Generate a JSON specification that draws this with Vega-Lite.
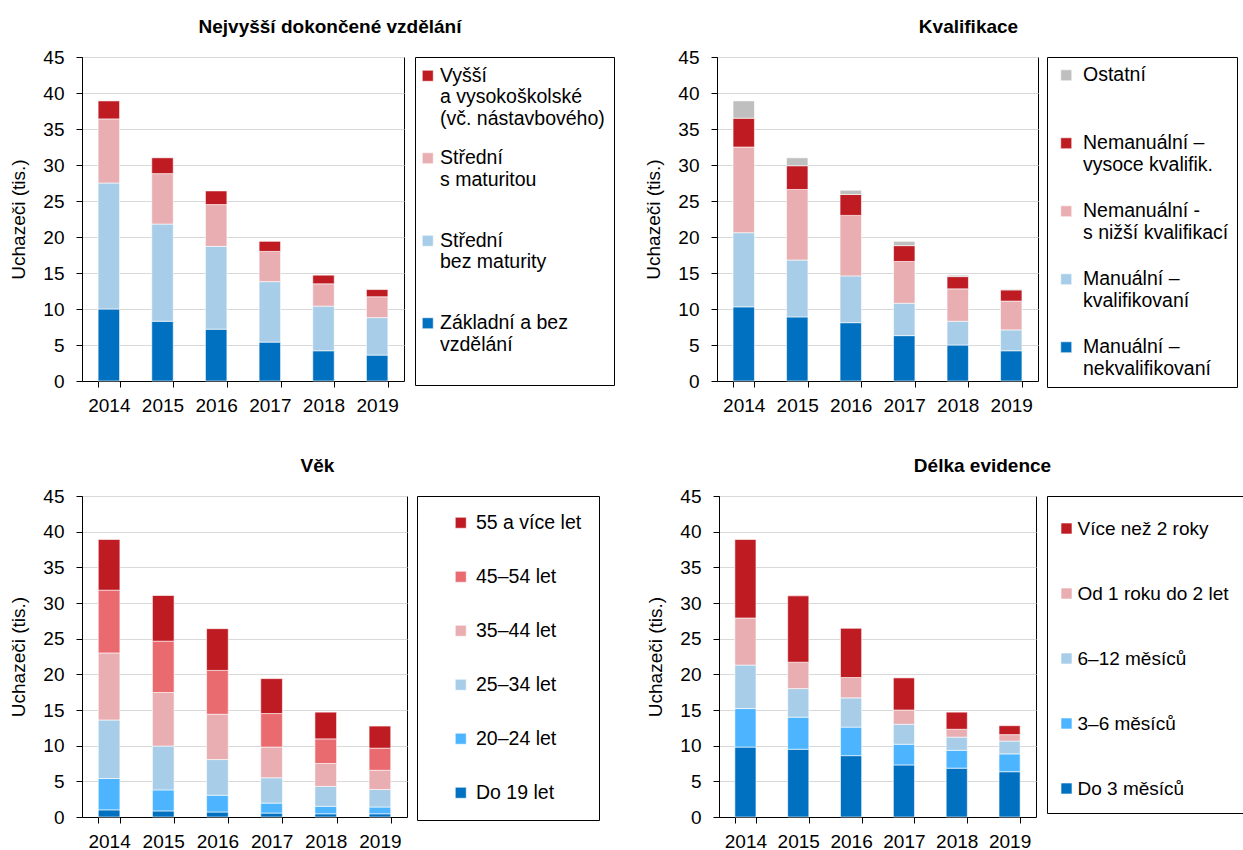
{
  "$schema": "https://vega.github.io/schema/vega-lite/v6.json",
  "background": "white",
  "padding": {"left": 9, "top": 17, "right": 0, "bottom": 0},
  "datasets": {
    "vzdelani": [
      {"rok": 2014, "kat": "Základní a bez vzdělání", "pocet": 10.0},
      {"rok": 2014, "kat": "Střední bez maturity", "pocet": 17.5},
      {"rok": 2014, "kat": "Střední s maturitou", "pocet": 8.9},
      {"rok": 2014, "kat": "Vyšší a vysokoškolské (vč. nástavbového)", "pocet": 2.5},
      {"rok": 2015, "kat": "Základní a bez vzdělání", "pocet": 8.3},
      {"rok": 2015, "kat": "Střední bez maturity", "pocet": 13.5},
      {"rok": 2015, "kat": "Střední s maturitou", "pocet": 7.0},
      {"rok": 2015, "kat": "Vyšší a vysokoškolské (vč. nástavbového)", "pocet": 2.2},
      {"rok": 2016, "kat": "Základní a bez vzdělání", "pocet": 7.2},
      {"rok": 2016, "kat": "Střední bez maturity", "pocet": 11.5},
      {"rok": 2016, "kat": "Střední s maturitou", "pocet": 5.8},
      {"rok": 2016, "kat": "Vyšší a vysokoškolské (vč. nástavbového)", "pocet": 1.9},
      {"rok": 2017, "kat": "Základní a bez vzdělání", "pocet": 5.4},
      {"rok": 2017, "kat": "Střední bez maturity", "pocet": 8.4},
      {"rok": 2017, "kat": "Střední s maturitou", "pocet": 4.2},
      {"rok": 2017, "kat": "Vyšší a vysokoškolské (vč. nástavbového)", "pocet": 1.4},
      {"rok": 2018, "kat": "Základní a bez vzdělání", "pocet": 4.2},
      {"rok": 2018, "kat": "Střední bez maturity", "pocet": 6.2},
      {"rok": 2018, "kat": "Střední s maturitou", "pocet": 3.1},
      {"rok": 2018, "kat": "Vyšší a vysokoškolské (vč. nástavbového)", "pocet": 1.2},
      {"rok": 2019, "kat": "Základní a bez vzdělání", "pocet": 3.6},
      {"rok": 2019, "kat": "Střední bez maturity", "pocet": 5.2},
      {"rok": 2019, "kat": "Střední s maturitou", "pocet": 2.9},
      {"rok": 2019, "kat": "Vyšší a vysokoškolské (vč. nástavbového)", "pocet": 1.0}
    ],
    "kvalifikace": [
      {"rok": 2014, "kat": "Manuální – nekvalifikovaní", "pocet": 10.3},
      {"rok": 2014, "kat": "Manuální – kvalifikovaní", "pocet": 10.3},
      {"rok": 2014, "kat": "Nemanuální - s nižší kvalifikací", "pocet": 11.9},
      {"rok": 2014, "kat": "Nemanuální – vysoce kvalifik.", "pocet": 4.0},
      {"rok": 2014, "kat": "Ostatní", "pocet": 2.4},
      {"rok": 2015, "kat": "Manuální – nekvalifikovaní", "pocet": 8.9},
      {"rok": 2015, "kat": "Manuální – kvalifikovaní", "pocet": 7.9},
      {"rok": 2015, "kat": "Nemanuální - s nižší kvalifikací", "pocet": 9.8},
      {"rok": 2015, "kat": "Nemanuální – vysoce kvalifik.", "pocet": 3.3},
      {"rok": 2015, "kat": "Ostatní", "pocet": 1.1},
      {"rok": 2016, "kat": "Manuální – nekvalifikovaní", "pocet": 8.1},
      {"rok": 2016, "kat": "Manuální – kvalifikovaní", "pocet": 6.5},
      {"rok": 2016, "kat": "Nemanuální - s nižší kvalifikací", "pocet": 8.4},
      {"rok": 2016, "kat": "Nemanuální – vysoce kvalifik.", "pocet": 2.9},
      {"rok": 2016, "kat": "Ostatní", "pocet": 0.6},
      {"rok": 2017, "kat": "Manuální – nekvalifikovaní", "pocet": 6.3},
      {"rok": 2017, "kat": "Manuální – kvalifikovaní", "pocet": 4.5},
      {"rok": 2017, "kat": "Nemanuální - s nižší kvalifikací", "pocet": 5.8},
      {"rok": 2017, "kat": "Nemanuální – vysoce kvalifik.", "pocet": 2.2},
      {"rok": 2017, "kat": "Ostatní", "pocet": 0.6},
      {"rok": 2018, "kat": "Manuální – nekvalifikovaní", "pocet": 5.0},
      {"rok": 2018, "kat": "Manuální – kvalifikovaní", "pocet": 3.3},
      {"rok": 2018, "kat": "Nemanuální - s nižší kvalifikací", "pocet": 4.5},
      {"rok": 2018, "kat": "Nemanuální – vysoce kvalifik.", "pocet": 1.7},
      {"rok": 2018, "kat": "Ostatní", "pocet": 0.2},
      {"rok": 2019, "kat": "Manuální – nekvalifikovaní", "pocet": 4.2},
      {"rok": 2019, "kat": "Manuální – kvalifikovaní", "pocet": 2.9},
      {"rok": 2019, "kat": "Nemanuální - s nižší kvalifikací", "pocet": 4.0},
      {"rok": 2019, "kat": "Nemanuální – vysoce kvalifik.", "pocet": 1.55},
      {"rok": 2019, "kat": "Ostatní", "pocet": 0.1}
    ],
    "vek": [
      {"rok": 2014, "kat": "Do 19 let", "pocet": 1.0},
      {"rok": 2014, "kat": "20–24 let", "pocet": 4.4},
      {"rok": 2014, "kat": "25–34 let", "pocet": 8.2},
      {"rok": 2014, "kat": "35–44 let", "pocet": 9.4},
      {"rok": 2014, "kat": "45–54 let", "pocet": 8.8},
      {"rok": 2014, "kat": "55 a více let", "pocet": 7.1},
      {"rok": 2015, "kat": "Do 19 let", "pocet": 0.85},
      {"rok": 2015, "kat": "20–24 let", "pocet": 2.95},
      {"rok": 2015, "kat": "25–34 let", "pocet": 6.15},
      {"rok": 2015, "kat": "35–44 let", "pocet": 7.5},
      {"rok": 2015, "kat": "45–54 let", "pocet": 7.2},
      {"rok": 2015, "kat": "55 a více let", "pocet": 6.4},
      {"rok": 2016, "kat": "Do 19 let", "pocet": 0.7},
      {"rok": 2016, "kat": "20–24 let", "pocet": 2.35},
      {"rok": 2016, "kat": "25–34 let", "pocet": 5.0},
      {"rok": 2016, "kat": "35–44 let", "pocet": 6.35},
      {"rok": 2016, "kat": "45–54 let", "pocet": 6.15},
      {"rok": 2016, "kat": "55 a více let", "pocet": 5.85},
      {"rok": 2017, "kat": "Do 19 let", "pocet": 0.55},
      {"rok": 2017, "kat": "20–24 let", "pocet": 1.4},
      {"rok": 2017, "kat": "25–34 let", "pocet": 3.55},
      {"rok": 2017, "kat": "35–44 let", "pocet": 4.3},
      {"rok": 2017, "kat": "45–54 let", "pocet": 4.7},
      {"rok": 2017, "kat": "55 a více let", "pocet": 4.9},
      {"rok": 2018, "kat": "Do 19 let", "pocet": 0.45},
      {"rok": 2018, "kat": "20–24 let", "pocet": 1.05},
      {"rok": 2018, "kat": "25–34 let", "pocet": 2.8},
      {"rok": 2018, "kat": "35–44 let", "pocet": 3.2},
      {"rok": 2018, "kat": "45–54 let", "pocet": 3.45},
      {"rok": 2018, "kat": "55 a více let", "pocet": 3.75},
      {"rok": 2019, "kat": "Do 19 let", "pocet": 0.45},
      {"rok": 2019, "kat": "20–24 let", "pocet": 0.95},
      {"rok": 2019, "kat": "25–34 let", "pocet": 2.45},
      {"rok": 2019, "kat": "35–44 let", "pocet": 2.7},
      {"rok": 2019, "kat": "45–54 let", "pocet": 3.1},
      {"rok": 2019, "kat": "55 a více let", "pocet": 3.1}
    ],
    "evidence": [
      {"rok": 2014, "kat": "Do 3 měsíců", "pocet": 9.8},
      {"rok": 2014, "kat": "3–6 měsíců", "pocet": 5.4},
      {"rok": 2014, "kat": "6–12 měsíců", "pocet": 6.1},
      {"rok": 2014, "kat": "Od 1 roku do 2 let", "pocet": 6.6},
      {"rok": 2014, "kat": "Více než 2 roky", "pocet": 11.0},
      {"rok": 2015, "kat": "Do 3 měsíců", "pocet": 9.5},
      {"rok": 2015, "kat": "3–6 měsíců", "pocet": 4.5},
      {"rok": 2015, "kat": "6–12 měsíců", "pocet": 4.0},
      {"rok": 2015, "kat": "Od 1 roku do 2 let", "pocet": 3.7},
      {"rok": 2015, "kat": "Více než 2 roky", "pocet": 9.3},
      {"rok": 2016, "kat": "Do 3 měsíců", "pocet": 8.6},
      {"rok": 2016, "kat": "3–6 měsíců", "pocet": 4.0},
      {"rok": 2016, "kat": "6–12 měsíců", "pocet": 4.1},
      {"rok": 2016, "kat": "Od 1 roku do 2 let", "pocet": 2.85},
      {"rok": 2016, "kat": "Více než 2 roky", "pocet": 6.9},
      {"rok": 2017, "kat": "Do 3 měsíců", "pocet": 7.3},
      {"rok": 2017, "kat": "3–6 měsíců", "pocet": 2.9},
      {"rok": 2017, "kat": "6–12 měsíců", "pocet": 2.8},
      {"rok": 2017, "kat": "Od 1 roku do 2 let", "pocet": 2.0},
      {"rok": 2017, "kat": "Více než 2 roky", "pocet": 4.5},
      {"rok": 2018, "kat": "Do 3 měsíců", "pocet": 6.85},
      {"rok": 2018, "kat": "3–6 měsíců", "pocet": 2.5},
      {"rok": 2018, "kat": "6–12 měsíců", "pocet": 1.85},
      {"rok": 2018, "kat": "Od 1 roku do 2 let", "pocet": 1.1},
      {"rok": 2018, "kat": "Více než 2 roky", "pocet": 2.4},
      {"rok": 2019, "kat": "Do 3 měsíců", "pocet": 6.35},
      {"rok": 2019, "kat": "3–6 měsíců", "pocet": 2.5},
      {"rok": 2019, "kat": "6–12 měsíců", "pocet": 1.8},
      {"rok": 2019, "kat": "Od 1 roku do 2 let", "pocet": 0.9},
      {"rok": 2019, "kat": "Více než 2 roky", "pocet": 1.25}
    ]
  },
  "config": {
    "font": "Liberation Sans",
    "view": {"stroke": "#000", "strokeWidth": 1},
    "axis": {
      "domainColor": "#000",
      "tickColor": "#000",
      "tickSize": 6,
      "labelColor": "#000",
      "labelFontSize": 19,
      "titleColor": "#000",
      "titleFontSize": 19,
      "titleFontWeight": "normal",
      "gridColor": "#d9d9d9"
    },
    "axisX": {"labelAngle": 0, "labelPadding": 9, "grid": false},
    "axisY": {"labelPadding": 12, "titlePadding": 14},
    "title": {"fontSize": 19, "fontWeight": "bold", "color": "#000", "anchor": "middle", "frame": "group", "offset": 11},
    "legend": {
      "orient": "right",
      "offset": 10,
      "strokeColor": "#000",
      "fillColor": "#fff",
      "labelFontSize": 19.5,
      "labelColor": "#000",
      "labelLimit": 300,
      "symbolType": "square",
      "symbolSize": 121,
      "symbolStrokeWidth": 0
    },
    "bar": {"stroke": "#fff", "strokeWidth": 0.6}
  },
  "resolve": {"scale": {"color": "independent"}, "legend": {"color": "independent"}},
  "spacing": 40,
  "vconcat": [
    {
      "spacing": 29,
      "resolve": {"scale": {"color": "independent"}, "legend": {"color": "independent"}},
      "hconcat": [
        {
          "title": {"text": "Nejvyšší dokončené vzdělání", "dx": 87},
          "width": 322,
          "height": 324,
          "data": {"name": "vzdelani"},
          "transform": [
            {"calculate": "indexof(['Základní a bez vzdělání', 'Střední bez maturity', 'Střední s maturitou', 'Vyšší a vysokoškolské (vč. nástavbového)'], datum.kat)", "as": "poradi"}
          ],
          "mark": {"type": "bar"},
          "encoding": {
            "x": {"field": "rok", "type": "ordinal", "scale": {"paddingInner": 0.6, "paddingOuter": 0.3}, "axis": {"title": null, "tickBand": "extent"}},
            "y": {"field": "pocet", "type": "quantitative", "stack": "zero", "scale": {"domain": [0, 45], "nice": false}, "axis": {"title": "Uchazeči (tis.)", "values": [0, 5, 10, 15, 20, 25, 30, 35, 40, 45]}},
            "color": {
              "field": "kat",
              "type": "nominal",
              "scale": {
                "domain": ["Vyšší a vysokoškolské (vč. nástavbového)", "Střední s maturitou", "Střední bez maturity", "Základní a bez vzdělání"],
                "range": ["#BE1B22", "#E8AEB1", "#A7CDE8", "#0070C0"]
              },
              "legend": {
                "title": null,
                "offset": 11,
                "padding": 9,
                "rowPadding": 18.5,
                "symbolOffset": -6,
                "labelOffset": 2.5,
                "labelExpr": "datum.label == 'Vyšší a vysokoškolské (vč. nástavbového)' ? ['Vyšší', 'a vysokoškolské', '(vč. nástavbového)'] : datum.label == 'Střední s maturitou' ? ['Střední', 's maturitou', ''] : datum.label == 'Střední bez maturity' ? ['Střední', 'bez maturity', ''] : ['Základní a bez', 'vzdělání', '']"
              }
            },
            "order": {"field": "poradi", "type": "quantitative"}
          }
        },
        {
          "title": {"text": "Kvalifikace", "dx": 91},
          "width": 321,
          "height": 324,
          "data": {"name": "kvalifikace"},
          "transform": [
            {"calculate": "indexof(['Manuální – nekvalifikovaní', 'Manuální – kvalifikovaní', 'Nemanuální - s nižší kvalifikací', 'Nemanuální – vysoce kvalifik.', 'Ostatní'], datum.kat)", "as": "poradi"}
          ],
          "mark": {"type": "bar"},
          "encoding": {
            "x": {"field": "rok", "type": "ordinal", "scale": {"paddingInner": 0.6, "paddingOuter": 0.3}, "axis": {"title": null, "tickBand": "extent"}},
            "y": {"field": "pocet", "type": "quantitative", "stack": "zero", "scale": {"domain": [0, 45], "nice": false}, "axis": {"title": "Uchazeči (tis.)", "values": [0, 5, 10, 15, 20, 25, 30, 35, 40, 45]}},
            "color": {
              "field": "kat",
              "type": "nominal",
              "scale": {
                "domain": ["Ostatní", "Nemanuální – vysoce kvalifik.", "Nemanuální - s nižší kvalifikací", "Manuální – kvalifikovaní", "Manuální – nekvalifikovaní"],
                "range": ["#BFBFBF", "#BE1B22", "#E8AEB1", "#A7CDE8", "#0070C0"]
              },
              "legend": {
                "title": null,
                "offset": 9,
                "padding": 8.5,
                "rowPadding": 26,
                "symbolOffset": 1,
                "labelOffset": 7,
                "labelExpr": "datum.label == 'Ostatní' ? ['Ostatní', ''] : datum.label == 'Nemanuální – vysoce kvalifik.' ? ['Nemanuální –', 'vysoce kvalifik.'] : datum.label == 'Nemanuální - s nižší kvalifikací' ? ['Nemanuální -', 's nižší kvalifikací'] : datum.label == 'Manuální – kvalifikovaní' ? ['Manuální –', 'kvalifikovaní'] : ['Manuální –', 'nekvalifikovaní']"
              }
            },
            "order": {"field": "poradi", "type": "quantitative"}
          }
        }
      ]
    },
    {
      "spacing": 46,
      "resolve": {"scale": {"color": "independent"}, "legend": {"color": "independent"}},
      "hconcat": [
        {
          "title": {"text": "Věk", "dx": 73},
          "width": 325,
          "height": 321,
          "data": {"name": "vek"},
          "transform": [
            {"calculate": "indexof(['Do 19 let', '20–24 let', '25–34 let', '35–44 let', '45–54 let', '55 a více let'], datum.kat)", "as": "poradi"}
          ],
          "mark": {"type": "bar"},
          "encoding": {
            "x": {"field": "rok", "type": "ordinal", "scale": {"paddingInner": 0.6, "paddingOuter": 0.3}, "axis": {"title": null, "tickBand": "extent"}},
            "y": {"field": "pocet", "type": "quantitative", "stack": "zero", "scale": {"domain": [0, 45], "nice": false}, "axis": {"title": "Uchazeči (tis.)", "values": [0, 5, 10, 15, 20, 25, 30, 35, 40, 45]}},
            "color": {
              "field": "kat",
              "type": "nominal",
              "scale": {
                "domain": ["55 a více let", "45–54 let", "35–44 let", "25–34 let", "20–24 let", "Do 19 let"],
                "range": ["#BE1B22", "#EA6B6F", "#E8AEB1", "#A7CDE8", "#4DB5FF", "#0070C0"]
              },
              "legend": {
                "title": null,
                "offset": 10,
                "padding": 17,
                "rowPadding": 33,
                "symbolOffset": 17,
                "labelOffset": 5.5
              }
            },
            "order": {"field": "poradi", "type": "quantitative"}
          }
        },
        {
          "title": {"text": "Délka evidence", "dx": 105},
          "width": 317,
          "height": 321,
          "data": {"name": "evidence"},
          "transform": [
            {"calculate": "indexof(['Do 3 měsíců', '3–6 měsíců', '6–12 měsíců', 'Od 1 roku do 2 let', 'Více než 2 roky'], datum.kat)", "as": "poradi"}
          ],
          "mark": {"type": "bar"},
          "encoding": {
            "x": {"field": "rok", "type": "ordinal", "scale": {"paddingInner": 0.6, "paddingOuter": 0.3}, "axis": {"title": null, "tickBand": "extent"}},
            "y": {"field": "pocet", "type": "quantitative", "stack": "zero", "scale": {"domain": [0, 45], "nice": false}, "axis": {"title": "Uchazeči (tis.)", "values": [0, 5, 10, 15, 20, 25, 30, 35, 40, 45]}},
            "color": {
              "field": "kat",
              "type": "nominal",
              "scale": {
                "domain": ["Více než 2 roky", "Od 1 roku do 2 let", "6–12 měsíců", "3–6 měsíců", "Do 3 měsíců"],
                "range": ["#BE1B22", "#E8AEB1", "#A7CDE8", "#4DB5FF", "#0070C0"]
              },
              "legend": {
                "title": " ",
                "titleFontSize": 2,
                "titlePadding": 7,
                "offset": 11,
                "padding": 14,
                "rowPadding": 45,
                "labelFontSize": 19,
                "symbolOffset": -4,
                "labelOffset": 1.5
              }
            },
            "order": {"field": "poradi", "type": "quantitative"}
          }
        }
      ]
    }
  ]
}
